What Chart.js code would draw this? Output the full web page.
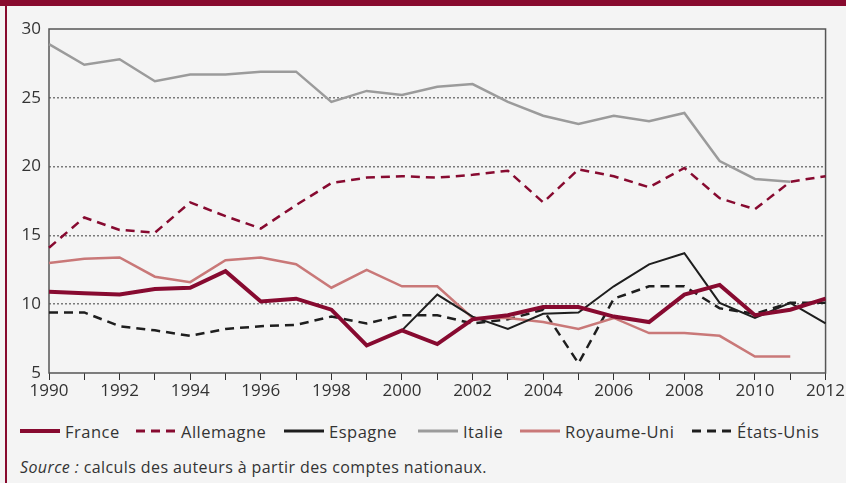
<!DOCTYPE html>
<html lang="fr">
<head>
<meta charset="utf-8">
<script src="https://cdn.jsdelivr.net/npm/chart.js@4"></script>
<style>
  html, body { margin: 0; padding: 0; }
  body {
    width: 846px; height: 483px; position: relative; overflow: hidden;
    background: #f4f4f4; font-family: "Open Sans", sans-serif; color: #333;
  }
  #topBand { position: absolute; left: 0; top: 0; width: 846px; height: 6px; background: #880a2e; }
  #leftBand { position: absolute; left: 5px; top: 6px; width: 2px; height: 477px; background: #880a2e; }
  #chart { position: absolute; left: 0; top: 0; }
  .leg { position: absolute; top: 420px; height: 22px; display: flex; align-items: center; font-size: 16.5px; letter-spacing: 0.5px; }
  .leg svg { margin-right: 5px; }
  #source { position: absolute; left: 20px; top: 456px; font-size: 16px; letter-spacing: 0.4px; }
</style>
</head>
<body>
<div id="topBand"></div>
<div id="leftBand"></div>
<canvas id="chart" width="846" height="400"></canvas>
<div id="legend"></div>
<div id="source"><i>Source :</i> calculs des auteurs à partir des comptes nationaux.</div>
<script>
// Years on the x axis
const years = ['1990','1991','1992','1993','1994','1995','1996','1997','1998','1999','2000',
               '2001','2002','2003','2004','2005','2006','2007','2008','2009','2010','2011','2012'];

// Series values
const france     = [10.9, 10.8, 10.7, 11.1, 11.2, 12.4, 10.2, 10.4, 9.6, 7.0, 8.1, 7.1, 8.9, 9.2, 9.8, 9.8, 9.1, 8.7, 10.7, 11.4, 9.2, 9.6, 10.4];
const allemagne  = [14.1, 16.3, 15.4, 15.2, 17.4, 16.4, 15.5, 17.2, 18.8, 19.2, 19.3, 19.2, 19.4, 19.7, 17.4, 19.8, 19.3, 18.5, 19.9, 17.7, 16.9, 18.9, 19.3];
const espagne    = [null, null, null, null, null, null, null, null, null, null, 8.1, 10.7, 9.1, 8.2, 9.3, 9.4, 11.3, 12.9, 13.7, 10.1, 9.0, 10.1, 8.6];
const italie     = [28.9, 27.4, 27.8, 26.2, 26.7, 26.7, 26.9, 26.9, 24.7, 25.5, 25.2, 25.8, 26.0, 24.7, 23.7, 23.1, 23.7, 23.3, 23.9, 20.4, 19.1, 18.9, null];
const royaumeUni = [13.0, 13.3, 13.4, 12.0, 11.6, 13.2, 13.4, 12.9, 11.2, 12.5, 11.3, 11.3, 9.0, 9.0, 8.7, 8.2, 9.0, 7.9, 7.9, 7.7, 6.2, 6.2, null];
const etatsUnis  = [9.4, 9.4, 8.4, 8.1, 7.7, 8.2, 8.4, 8.5, 9.1, 8.6, 9.2, 9.2, 8.6, 8.9, 9.6, 5.7, 10.4, 11.3, 11.3, 9.7, 9.3, 10.1, 10.1];

const yTicks = [5, 10, 15, 20, 25, 30];

const DARKRED = '#870a30';

const series = [
  { label: 'France',      data: france,     color: DARKRED,   width: 4,   dash: [] },
  { label: 'Allemagne',   data: allemagne,  color: DARKRED,   width: 2.5, dash: [9, 6] },
  { label: 'Espagne',     data: espagne,    color: '#1e1e1e', width: 2,   dash: [] },
  { label: 'Italie',      data: italie,     color: '#9b9b9b', width: 2.5, dash: [] },
  { label: 'Royaume-Uni', data: royaumeUni, color: '#c97878', width: 2.5, dash: [] },
  { label: 'États-Unis',  data: etatsUnis,  color: '#1e1e1e', width: 2.5, dash: [9, 6] }
];

// frame around plot area
const boxPlugin = {
  id: 'box',
  beforeDatasetsDraw(chart) {
    const { ctx, chartArea: a } = chart;
    ctx.save();
    ctx.strokeStyle = '#555';
    ctx.lineWidth = 1.5;
    ctx.strokeRect(a.left, a.top, a.right - a.left, a.bottom - a.top);
    ctx.restore();
  }
};

new Chart(document.getElementById('chart'), {
  type: 'line',
  data: {
    labels: years,
    datasets: series.map(s => ({
      label: s.label,
      data: s.data,
      borderColor: s.color,
      borderWidth: s.width,
      borderDash: s.dash,
      pointRadius: 0,
      tension: 0,
      fill: false
    }))
  },
  options: {
    responsive: false,
    animation: false,
    layout: { padding: { left: 0, top: 29, right: 20, bottom: 0 } },
    plugins: { legend: { display: false }, tooltip: { enabled: false } },
    scales: {
      x: {
        offset: false,
        grid: { drawOnChartArea: false, tickLength: 7, color: '#333', lineWidth: 1 },
        border: { display: false },
        ticks: {
          autoSkip: false, maxRotation: 0, padding: 1,
          color: '#333', font: { family: 'Open Sans', size: 17 },
          callback: function (v, i) { return i % 2 === 0 ? this.getLabelForValue(v) : ''; }
        },
        afterFit: s => { s.height = 27; }
      },
      y: {
        min: 5, max: 30,
        afterBuildTicks: s => { s.ticks = yTicks.map(v => ({ value: v })); },
        grid: {
          drawTicks: false,
          color: c => (c.tick && (c.tick.value === 5 || c.tick.value === 30)) ? 'rgba(0,0,0,0)' : '#7a7a7a',
          lineWidth: 1.5
        },
        border: { display: false, dash: [2, 2] },
        ticks: { padding: 8, color: '#333', font: { family: 'Open Sans', size: 17 } },
        afterFit: s => { s.width = 49; }
      }
    }
  },
  plugins: [boxPlugin]
});

// legend built from the same series list
const legendLeft = [20, 136, 284, 418, 520, 692];
const legend = document.getElementById('legend');
series.forEach((s, i) => {
  const item = document.createElement('div');
  item.className = 'leg';
  item.style.left = legendLeft[i] + 'px';
  const w = s.label === 'France' ? 4 : 3;
  item.innerHTML =
    '<svg width="40" height="6"><line x1="0" y1="3" x2="40" y2="3" stroke="' + s.color +
    '" stroke-width="' + w + '" stroke-dasharray="' + (s.dash.length ? s.dash.join(',') : 'none') +
    '"/></svg><span>' + s.label + '</span>';
  legend.appendChild(item);
});
</script>
</body>
</html>
